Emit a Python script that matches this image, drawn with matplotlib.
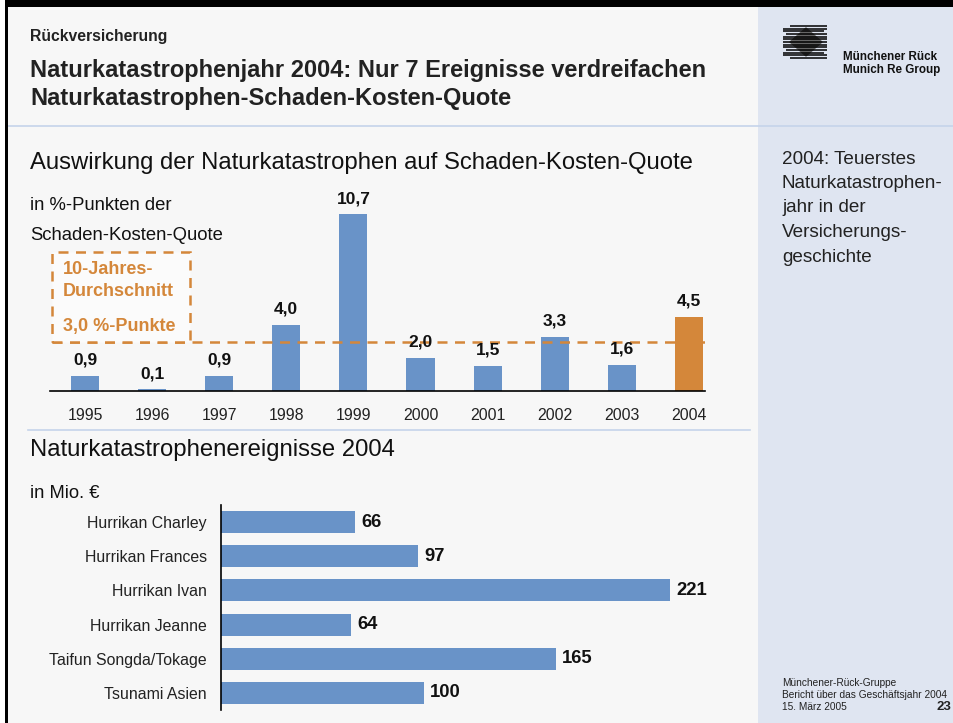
import matplotlib
matplotlib.use("Agg")
import matplotlib.pyplot as plt
from matplotlib.patches import Rectangle

plt.rcParams['font.family'] = ['Liberation Sans', 'DejaVu Sans']

# ---------------- data ----------------
years = ["1995", "1996", "1997", "1998", "1999", "2000", "2001", "2002", "2003", "2004"]
impact = [0.9, 0.1, 0.9, 4.0, 10.7, 2.0, 1.5, 3.3, 1.6, 4.5]
impact_labels = ["0,9", "0,1", "0,9", "4,0", "10,7", "2,0", "1,5", "3,3", "1,6", "4,5"]
average = 3.0

events = ["Hurrikan Charley", "Hurrikan Frances", "Hurrikan Ivan", "Hurrikan Jeanne",
          "Taifun Songda/Tokage", "Tsunami Asien"]
losses = [66, 97, 221, 64, 165, 100]

# ---------------- styles ----------------
W, H = 954, 723
BG = "#f7f7f7"
PANEL = "#dfe5f1"
LINE = "#c5d4ea"
BLUE = "#6993c8"
ORANGE = "#d4873a"

fig = plt.figure(figsize=(W / 100, H / 100), dpi=100)
fig.patch.set_facecolor(BG)

def fig_rect(x0, y0, x1, y1):
    return [x0 / W, 1 - y1 / H, (x1 - x0) / W, (y1 - y0) / H]

# background / decoration axes in pixel coordinates
bg = fig.add_axes([0, 0, 1, 1])
bg.set_xlim(0, W)
bg.set_ylim(H, 0)
bg.axis("off")
bg.add_patch(Rectangle((0, 0), W, H, facecolor=BG, edgecolor="none", zorder=0))
bg.add_patch(Rectangle((758, 0), W - 758, H, facecolor=PANEL, edgecolor="none", zorder=0.5))
bg.add_patch(Rectangle((0, 0), 5, H, facecolor="white", edgecolor="none", zorder=1))
bg.add_patch(Rectangle((5, 0), 3, H, facecolor="black", edgecolor="none", zorder=2))
bg.add_patch(Rectangle((5, 0), W, 7, facecolor="black", edgecolor="none", zorder=2))
bg.plot([8, W], [126, 126], color=LINE, lw=1.2, zorder=1)
bg.plot([28, 750], [430, 430], color=LINE, lw=1.2, zorder=1)

# header
bg.text(30, 36, "Rückversicherung", fontsize=11.3, fontweight="bold", color="#222222", va="center")
bg.text(30, 70, "Naturkatastrophenjahr 2004: Nur 7 Ereignisse verdreifachen", fontsize=17,
        fontweight="bold", color="#222222", va="center")
bg.text(30, 99, "Naturkatastrophen-Schaden-Kosten-Quote", fontsize=17,
        fontweight="bold", color="#222222", va="center")

# logo
stripe_specs = [(790, 827), (783, 827), (783, 824), (786, 827), (783, 827), (783, 827),
                (783, 827), (783, 827), (783, 827), (786, 827), (783, 824), (783, 827), (790, 827)]
for k, (xa, xb) in enumerate(stripe_specs):
    yk = 26 + k * 2.65
    bg.plot([xa, xb], [yk, yk], color="black", lw=1.1, solid_capstyle="butt", zorder=3)
bg.fill([806, 822, 806, 790], [28, 42, 56, 42], color="#666666", zorder=2.5)
bg.text(843, 57, "Münchener Rück", fontsize=8.4, fontweight="bold", color="#111111", va="center")
bg.text(843, 70, "Munich Re Group", fontsize=8.4, fontweight="bold", color="#111111", va="center")

# right panel text
for k, line in enumerate(["2004: Teuerstes", "Naturkatastrophen-", "jahr in der",
                          "Versicherungs-", "geschichte"]):
    bg.text(782, 159 + k * 24.5, line, fontsize=13.6, color="#222222", va="center")

# footer
bg.text(782, 683, "Münchener-Rück-Gruppe", fontsize=7.3, color="#222222", va="center")
bg.text(782, 695, "Bericht über das Geschäftsjahr 2004", fontsize=7.3, color="#222222", va="center")
bg.text(782, 707, "15. März 2005", fontsize=7.3, color="#222222", va="center")
bg.text(951, 707, "23", fontsize=9.5, fontweight="bold", color="#222222", va="center", ha="right")

# section titles
bg.text(30, 163, "Auswirkung der Naturkatastrophen auf Schaden-Kosten-Quote", fontsize=17.2,
        color="#111111", va="center")
bg.text(30, 206, "in %-Punkten der", fontsize=13.3, color="#111111", va="center")
bg.text(30, 235, "Schaden-Kosten-Quote", fontsize=13.3, color="#111111", va="center")
bg.text(30, 450, "Naturkatastrophenereignisse 2004", fontsize=17.2, color="#111111", va="center")
bg.text(30, 493, "in Mio. €", fontsize=13.2, color="#111111", va="center")

# ---------------- top bar chart ----------------
step = 67.1
x_left, x_right, y_top, y_base = 50, 705, 190, 391
ppu = 16.5
ax1 = fig.add_axes(fig_rect(x_left, y_top, x_right, y_base))
ax1.set_facecolor("none")
xs = list(range(len(years)))
ax1.set_xlim((x_left - 85) / step, (x_right - 85) / step)
ax1.set_ylim(0, (y_base - y_top) / ppu)
colors = [BLUE] * (len(years) - 1) + [ORANGE]
ax1.bar(xs, impact, width=0.42, color=colors, zorder=2)
for x, v, lab in zip(xs, impact, impact_labels):
    ax1.annotate(lab, (x, v), xytext=(0, 6), textcoords="offset points", ha="center",
                 va="bottom", fontsize=12.5, fontweight="bold", color="#111111", zorder=4)
ax1.hlines(average, (52 - 85) / step, (x_right - 85) / step, colors=ORANGE, lw=1.8,
           linestyles=(0, (4, 3)), zorder=3)
box_x0 = (52 - 85) / step
box_x1 = (190 - 85) / step
box_y1 = (y_base - 252) / ppu
ax1.add_patch(Rectangle((box_x0, average), box_x1 - box_x0, box_y1 - average,
                        facecolor="#fbfbfb", edgecolor=ORANGE, lw=1.8, linestyle=(0, (4, 3)),
                        zorder=3, clip_on=False))
for ty, txt in [(270, "10-Jahres-"), (292, "Durchschnitt"), (326, "3,0 %-Punkte")]:
    ax1.text(63, ty, txt, transform=bg.transData, fontsize=13, fontweight="bold",
             color=ORANGE, va="center", zorder=5)
ax1.set_xticks(xs)
ax1.set_xticklabels(years, fontsize=11.4, color="#222222")
ax1.tick_params(axis="x", length=0, pad=12)
ax1.set_yticks([])
for s in ["top", "right", "left"]:
    ax1.spines[s].set_visible(False)
ax1.spines["bottom"].set_color("black")
ax1.spines["bottom"].set_linewidth(1.2)

# ---------------- horizontal bar chart ----------------
hx0, hx1, hy0, hy1 = 221, 750, 505, 710
hppu = 2.03
ax2 = fig.add_axes(fig_rect(hx0, hy0, hx1, hy1))
ax2.set_facecolor("none")
ys = list(range(len(events)))
ax2.barh(ys, losses, height=0.64, color=BLUE, zorder=2)
ax2.set_xlim(0, (hx1 - hx0) / hppu)
ax2.set_ylim(len(events) - 0.5, -0.5)
for y, v in zip(ys, losses):
    ax2.annotate(str(v), (v, y), xytext=(4.5, 0), textcoords="offset points", ha="left",
                 va="center", fontsize=13.3, fontweight="bold", color="#111111")
ax2.set_yticks(ys)
ax2.set_yticklabels(events, fontsize=11.4, color="#222222")
ax2.tick_params(axis="y", length=0, pad=10)
ax2.set_xticks([])
for s in ["top", "right", "bottom"]:
    ax2.spines[s].set_visible(False)
ax2.spines["left"].set_color("black")
ax2.spines["left"].set_linewidth(1.2)

fig.savefig("out.png", dpi=100, facecolor=fig.get_facecolor())
